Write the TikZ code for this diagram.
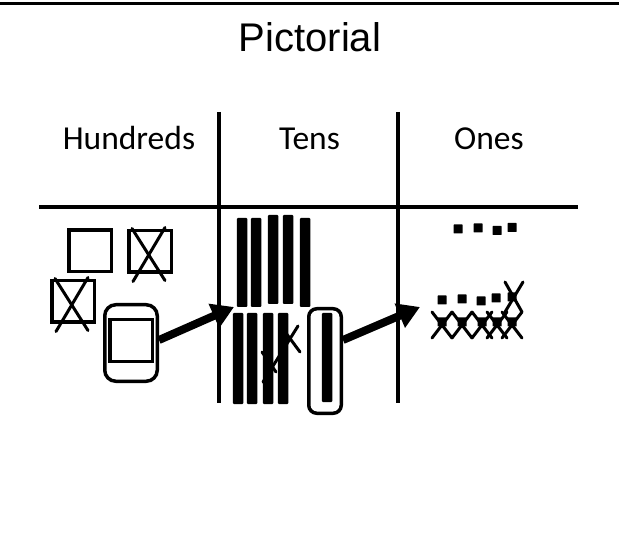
\documentclass[tikz,border=0pt]{standalone}
\usepackage{fontspec}
\newfontfamily\titlefont{Liberation Sans}
\newfontfamily\headfont{Carlito}
\usetikzlibrary{arrows.meta,positioning,calc}

\begin{document}
\begin{tikzpicture}[x=1pt,y=-1pt,
  frame/.style={line width=4pt,draw=black},
  flat/.style={draw=black,line width=3.5pt,minimum width=42.5pt,minimum height=41.5pt,inner sep=0pt},
  grouped/.style={draw=black,line width=3.5pt,rounded corners=11pt,inner sep=0pt},
  rod/.style={fill=black,rounded corners=1pt,minimum width=10.5pt,inner sep=0pt},
  unit/.style={fill=black,minimum size=9pt,inner sep=0pt,rounded corners=0.5pt},
  strike/.style={line width=3pt,line cap=round},
  carry/.style={-{Triangle[length=22pt,width=25pt]},line width=8pt},
  colhead/.style={font=\headfont\fontsize{33.5}{40}\selectfont,anchor=base}
]
  \useasboundingbox (0,0) rectangle (619,556);
  % title and chart frame
  \draw[line width=3pt] (0,4) -- (619,4);
  \node[font=\titlefont\fontsize{40}{48}\selectfont,anchor=base] (title) at (310,52) {Pictorial};
  \node[colhead] (hundreds) at (129,150) {Hundreds};
  \node[colhead] (tens) at (309.5,150) {Tens};
  \node[colhead] (ones) at (489,150) {Ones};
  \draw[frame] (219,112) -- (219,403);
  \draw[frame] (398,112) -- (398,403);
  \draw[line width=4.5pt] (39,207) -- (578,207);

  % hundreds
  \node[flat] (sqa) at (90,251) {};
  \node[flat] (sqb) at (150,251.5) {};
  \node[flat] (sqc) at (73,301.5) {};
  \foreach \sq in {sqb,sqc}{
    \draw[strike] ([shift={(-18,-23)}]\sq.center) -- ([shift={(15,29)}]\sq.center);
    \draw[strike] ([shift={(15,-24)}]\sq.center) -- ([shift={(-17,30)}]\sq.center);
  }
  \node[grouped,minimum width=52.5pt,minimum height=76.5pt] (hgroup) at (131,343) {};
  \node[flat] (sqd) at (131,340.5) {};

  % tens
  \foreach \x/\t/\b [count=\i] in {242/218/307,256/218/307,273/215/304,288/215/304,305/218/307}
    \node[rod,minimum height={\b-\t}] (rodt\i) at (\x,{(\t+\b)/2}) {};
  \foreach \x [count=\i] in {238,252,268,283}
    \node[rod,minimum height=91pt] (rodb\i) at (\x,358.5) {};
  \draw[strike] (298,326) -- (263,382);
  \draw[strike] (280,325) -- (300,352);
  \draw[strike] (262,352) -- (276,372);
  \node[grouped,rounded corners=8pt,minimum width=32.5pt,minimum height=104.5pt] (tgroup) at (325,361) {};
  \node[rod,minimum height=89pt] (rodc) at (327,357.5) {};

  % ones
  \foreach \x/\y in {458/229,478/228,497/230.5,512/227.5}
    \node[unit] at (\x,\y) {};
  \foreach \x/\y in {442/300,462/299,481/301,496/298,512/297}
    \node[unit] at (\x,\y) {};
  \foreach \x in {442,462,482,497,512}{
    \node[unit] at (\x,322) {};
    \draw[strike] (\x-10,312) -- (\x+10,338);
    \draw[strike] (\x+10,312) -- (\x-10,338);
  }
  \draw[strike] (505,282) -- (522,312);
  \draw[strike] (523,282) -- (505,312);

  % regrouping arrows
  \coordinate (tipa) at (234,307);
  \coordinate (tipb) at (420,307);
  \draw[carry] ([yshift=3pt]hgroup.east) -- (tipa);
  \draw[carry] ([yshift=21pt]tgroup.east) -- (tipb);
\end{tikzpicture}
\end{document}
